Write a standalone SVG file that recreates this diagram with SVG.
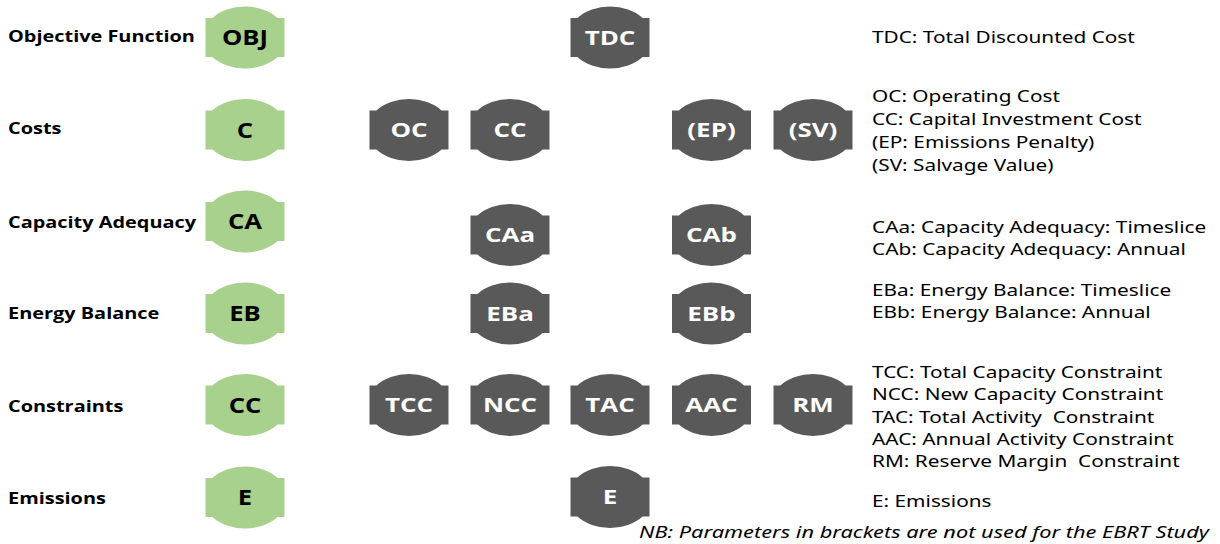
<svg xmlns="http://www.w3.org/2000/svg" xmlns:xlink="http://www.w3.org/1999/xlink" width="1220" height="544" viewBox="0 0 1220 544">
  <defs>
    <!-- node badge: flat-sided rectangle capped by elliptical arcs, centred on 0,0 -->
    <path id="badge" d="M -39.5 -19.5 H -32.6 A 42 31 0 0 1 32.6 -19.5 H 39.5 V 19.5 H 32.6 A 42 31 0 0 1 -32.6 19.5 H -39.5 Z"/>
    <style>
      .cat use { fill: #A9D18E; }
      .par use { fill: #595959; }
      .cat text { font-family: "Open Sans", "Noto Sans", "DejaVu Sans", sans-serif; font-weight: 700; font-size: 21px; fill: #000; text-anchor: middle; }
      .par text { font-family: "Open Sans", "Noto Sans", "DejaVu Sans", sans-serif; font-weight: 700; font-size: 19.5px; fill: #fff; text-anchor: middle; }
      .row { font-family: "Open Sans", "Noto Sans", "DejaVu Sans", sans-serif; font-weight: 700; font-size: 16px; fill: #000; }
      .key text { font-family: "Noto Sans", "Open Sans", "DejaVu Sans", sans-serif; font-size: 16px; fill: #000; }
      .note { font-family: "Noto Sans", "Open Sans", "DejaVu Sans", sans-serif; font-style: italic; font-size: 16.5px; fill: #000; text-anchor: end; }
    </style>
  </defs>

  <rect width="1220" height="544" fill="#fff"/>

  <!-- row headings -->
  <g id="row-labels">
    <text class="row" transform="translate(8 42.3) scale(1.245 1)">Objective Function</text>
    <text class="row" transform="translate(8 134) scale(1.245 1)">Costs</text>
    <text class="row" transform="translate(8 228.3) scale(1.245 1)">Capacity Adequacy</text>
    <text class="row" transform="translate(8 319.3) scale(1.245 1)">Energy Balance</text>
    <text class="row" transform="translate(8 411.7) scale(1.245 1)">Constraints</text>
    <text class="row" transform="translate(8 504) scale(1.245 1)">Emissions</text>
  </g>

  <!-- category badges (green) -->
  <g id="cat-OBJ" class="cat" transform="translate(245 37.5)"><use xlink:href="#badge"/><text y="7.5" transform="scale(1.22 1)">OBJ</text></g>
  <g id="cat-C" class="cat" transform="translate(245 130)"><use xlink:href="#badge"/><text y="7.5" transform="scale(1.22 1)">C</text></g>
  <g id="cat-CA" class="cat" transform="translate(245 221.5)"><use xlink:href="#badge"/><text y="7.5" transform="scale(1.22 1)">CA</text></g>
  <g id="cat-EB" class="cat" transform="translate(245 313.5)"><use xlink:href="#badge"/><text y="7.5" transform="scale(1.22 1)">EB</text></g>
  <g id="cat-CC" class="cat" transform="translate(245 405)"><use xlink:href="#badge"/><text y="7.5" transform="scale(1.22 1)">CC</text></g>
  <g id="cat-E" class="cat" transform="translate(245 497.5)"><use xlink:href="#badge"/><text y="7.5" transform="scale(1.22 1)">E</text></g>

  <!-- parameter badges (grey) -->
  <g id="par-TDC" class="par" transform="translate(610 37.5)"><use xlink:href="#badge"/><text y="7" transform="scale(1.33 1)">TDC</text></g>

  <g id="par-OC" class="par" transform="translate(409 130)"><use xlink:href="#badge"/><text y="7" transform="scale(1.33 1)">OC</text></g>
  <g id="par-CC" class="par" transform="translate(510 130)"><use xlink:href="#badge"/><text y="7" transform="scale(1.33 1)">CC</text></g>
  <g id="par-EP" class="par" transform="translate(711.5 130)"><use xlink:href="#badge"/><text y="7" transform="scale(1.33 1)">(EP)</text></g>
  <g id="par-SV" class="par" transform="translate(813 130)"><use xlink:href="#badge"/><text y="7" transform="scale(1.33 1)">(SV)</text></g>

  <g id="par-CAa" class="par" transform="translate(510 235)"><use xlink:href="#badge"/><text y="7" transform="scale(1.33 1)">CAa</text></g>
  <g id="par-CAb" class="par" transform="translate(711.5 235)"><use xlink:href="#badge"/><text y="7" transform="scale(1.33 1)">CAb</text></g>

  <g id="par-EBa" class="par" transform="translate(510 313.5)"><use xlink:href="#badge"/><text y="7" transform="scale(1.33 1)">EBa</text></g>
  <g id="par-EBb" class="par" transform="translate(711.5 313.5)"><use xlink:href="#badge"/><text y="7" transform="scale(1.33 1)">EBb</text></g>

  <g id="par-TCC" class="par" transform="translate(409 405)"><use xlink:href="#badge"/><text y="7" transform="scale(1.33 1)">TCC</text></g>
  <g id="par-NCC" class="par" transform="translate(510 405)"><use xlink:href="#badge"/><text y="7" transform="scale(1.33 1)">NCC</text></g>
  <g id="par-TAC" class="par" transform="translate(610 405)"><use xlink:href="#badge"/><text y="7" transform="scale(1.33 1)">TAC</text></g>
  <g id="par-AAC" class="par" transform="translate(711.5 405)"><use xlink:href="#badge"/><text y="7" transform="scale(1.33 1)">AAC</text></g>
  <g id="par-RM" class="par" transform="translate(813 405)"><use xlink:href="#badge"/><text y="7" transform="scale(1.33 1)">RM</text></g>

  <g id="par-E" class="par" transform="translate(610 497)"><use xlink:href="#badge"/><text y="7" transform="scale(1.33 1)">E</text></g>

  <!-- abbreviation key -->
  <g id="key" class="key" transform="translate(872 0) scale(1.3 1)">
    <text y="43.5">TDC: Total Discounted Cost</text>
    <text y="102">OC: Operating Cost</text>
    <text y="125">CC: Capital Investment Cost</text>
    <text y="148">(EP: Emissions Penalty)</text>
    <text y="171">(SV: Salvage Value)</text>
    <text y="233.3">CAa: Capacity Adequacy: Timeslice</text>
    <text y="255">CAb: Capacity Adequacy: Annual</text>
    <text y="296.5">EBa: Energy Balance: Timeslice</text>
    <text y="318">EBb: Energy Balance: Annual</text>
    <text y="378.3">TCC: Total Capacity Constraint</text>
    <text y="400.5">NCC: New Capacity Constraint</text>
    <text y="422.7" xml:space="preserve">TAC: Total Activity  Constraint</text>
    <text y="445">AAC: Annual Activity Constraint</text>
    <text y="467.3" xml:space="preserve">RM: Reserve Margin  Constraint</text>
    <text y="506.7">E: Emissions</text>
  </g>

  <text id="footnote" class="note" transform="translate(1209 537.5) scale(1.32 1)">NB: Parameters in brackets are not used for the EBRT Study</text>
</svg>
